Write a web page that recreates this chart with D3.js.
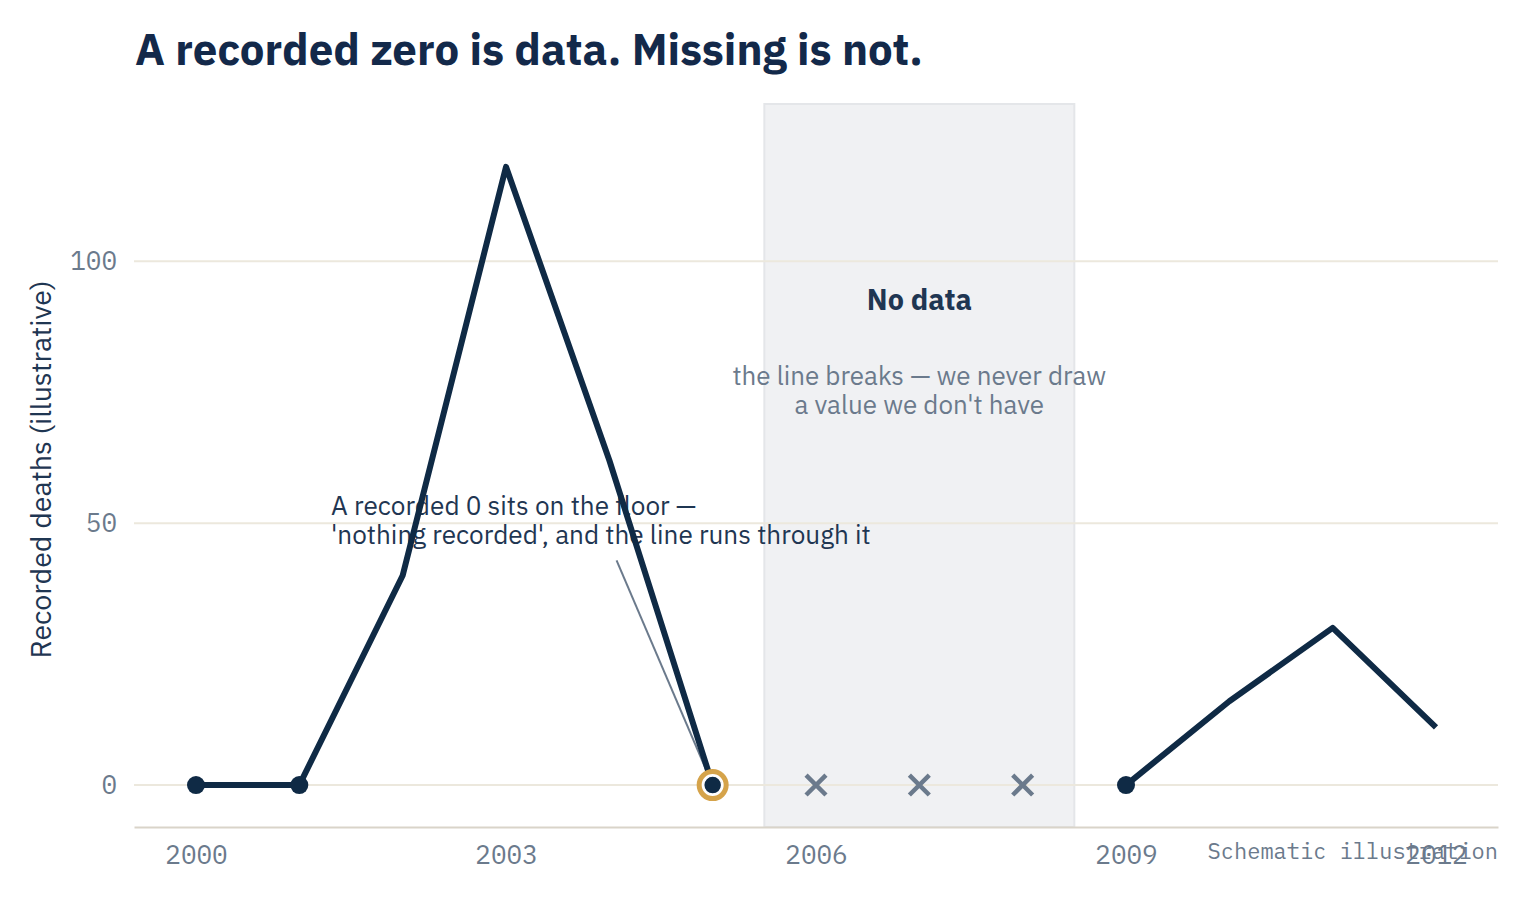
<!DOCTYPE html>
<html>
<head>
<meta charset="utf-8">
<script src="https://cdn.jsdelivr.net/npm/d3@7"></script>
<style>
  html, body { margin: 0; padding: 0; background: #ffffff; }
  svg { display: block; }
  .sans { font-family: "IBM Plex Sans", "Noto Sans", Roboto, sans-serif; }
</style>
</head>
<body>
<svg id="chart" width="1530" height="901"></svg>
<script>
// ---- data ----
const years  = [2000, 2001, 2002, 2003, 2004, 2005, 2006, 2007, 2008, 2009, 2010, 2011, 2012];
const deaths = [0, 0, 40, 118, 62, 0, null, null, null, 0, 16, 30, 11];
const missingYears = [2006, 2007, 2008];
const highlightYear = 2005;
const xTicks = [2000, 2003, 2006, 2009, 2012];
const yTicks = [0, 50, 100];
const titleText = "A recorded zero is data. Missing is not.";
const yLabel = "Recorded deaths (illustrative)";
const noDataTitle = "No data";
const noDataLines = ["the line breaks \u2014 we never draw", "a value we don't have"];
const noteLines = ["A recorded 0 sits on the floor \u2014", "'nothing recorded', and the line runs through it"];
const footnote = "Schematic illustration";

const data = years.map((y, i) => ({ year: y, value: deaths[i] }));

// ---- layout ----
const W = 1530, H = 901;
const m = { left: 134, right: 32, top: 104, bottom: 74 };
const svg = d3.select("#chart");

const x = d3.scaleLinear().domain([1999.4, 2012.6]).range([m.left, W - m.right]);
const y = d3.scaleLinear().domain([-8, 130]).range([H - m.bottom, m.top]);

const navy = "#0f2a45", textDark = "#1f3652", grey = "#6b7a8c", grid = "#ece8dd";
const monoFam = '"IBM Plex Mono", "DejaVu Sans Mono", "Liberation Mono", monospace';

// fit a text element to a target width (font fallback compensation)
function fitWidth(sel, target) {
  sel.each(function () {
    const w = this.getComputedTextLength();
    if (w > 0) {
      const fs = parseFloat(this.getAttribute("font-size"));
      this.setAttribute("font-size", (fs * target / w).toFixed(2));
    }
  });
}

// title
svg.append("text").attr("class", "sans")
  .attr("x", 135).attr("y", 65)
  .attr("font-size", 40).attr("font-weight", 700).attr("fill", "#13294a")
  .text(titleText).call(fitWidth, 788);

// no-data band
const bandX0 = x(d3.min(missingYears) - 0.5), bandX1 = x(d3.max(missingYears) + 0.5);
svg.append("rect")
  .attr("x", bandX0).attr("y", y.range()[1])
  .attr("width", bandX1 - bandX0).attr("height", y.range()[0] - y.range()[1])
  .attr("fill", "#f0f1f3").attr("stroke", "#e4e6e9").attr("stroke-width", 2);

// gridlines
svg.append("g").selectAll("line").data(yTicks).join("line")
  .attr("x1", x.range()[0]).attr("x2", x.range()[1])
  .attr("y1", d => y(d)).attr("y2", d => y(d))
  .attr("stroke", grid).attr("stroke-width", 2);

// y axis (labels only)
const yAxis = svg.append("g").attr("transform", `translate(${m.left},0)`)
  .call(d3.axisLeft(y).tickValues(yTicks).tickSize(0).tickPadding(17));
yAxis.select(".domain").remove();
yAxis.selectAll("text").attr("font-size", 26).attr("fill", grey)
  .style("font-family", monoFam);

// x axis
const xAxis = svg.append("g").attr("transform", `translate(0,${y.range()[0]})`)
  .call(d3.axisBottom(x).tickValues(xTicks).tickFormat(d3.format("d")).tickSize(0).tickPadding(19));
xAxis.select(".domain").attr("stroke", "#d9d4c9").attr("stroke-width", 2);
xAxis.selectAll("text").attr("font-size", 26).attr("fill", grey)
  .style("font-family", monoFam);

// y label
svg.append("text").attr("class", "sans")
  .attr("transform", `translate(51,${(y.range()[0] + y.range()[1]) / 2 + 4}) rotate(-90)`)
  .attr("text-anchor", "middle")
  .attr("font-size", 24).attr("fill", textDark)
  .text(yLabel).call(fitWidth, 378);

// no-data text
const bandCx = (bandX0 + bandX1) / 2;
svg.append("text").attr("class", "sans")
  .attr("x", bandCx).attr("y", 310).attr("text-anchor", "middle")
  .attr("font-size", 26).attr("font-weight", 700).attr("fill", textDark)
  .text(noDataTitle).call(fitWidth, 105);
const nd = svg.append("g").selectAll("text").data(noDataLines).join("text").attr("class", "sans")
  .attr("x", bandCx).attr("y", (d, i) => 385 + i * 29).attr("text-anchor", "middle")
  .attr("font-size", 23).attr("fill", grey)
  .text(d => d);
fitWidth(nd.filter((d, i) => i === 0), 374);
nd.filter((d, i) => i === 1).attr("font-size", nd.filter((d, i) => i === 0).attr("font-size"));

// annotation text
const nt = svg.append("g").selectAll("text").data(noteLines).join("text").attr("class", "sans")
  .attr("x", 331).attr("y", (d, i) => 515 + i * 29)
  .attr("font-size", 23).attr("fill", textDark)
  .text(d => d);
fitWidth(nt.filter((d, i) => i === 1), 540);
nt.filter((d, i) => i === 0).attr("font-size", nt.filter((d, i) => i === 1).attr("font-size"));

// leader line to highlighted zero
const hl = data.find(d => d.year === highlightYear);
const lx0 = x(2004.07), ly0 = y(42.9);
const hx = x(hl.year), hy = y(hl.value);
const dx = hx - lx0, dy = hy - ly0, len = Math.hypot(dx, dy);
svg.append("line")
  .attr("x1", lx0).attr("y1", ly0)
  .attr("x2", hx - dx / len * 13).attr("y2", hy - dy / len * 13)
  .attr("stroke", grey).attr("stroke-width", 2);

// data line (breaks where missing)
const line = d3.line().defined(d => d.value !== null)
  .x(d => x(d.year)).y(d => y(d.value));
svg.append("path").datum(data)
  .attr("d", line)
  .attr("fill", "none").attr("stroke", navy).attr("stroke-width", 6)
  .attr("stroke-linejoin", "round");

// missing markers
svg.append("g").selectAll("path").data(missingYears).join("path")
  .attr("transform", d => `translate(${x(d)},${y(0)})`)
  .attr("d", d3.symbol(d3.symbolX, 260)())
  .attr("fill", "none").attr("stroke", grey).attr("stroke-width", 4.5);

// highlight ring
svg.append("circle")
  .attr("cx", hx).attr("cy", hy).attr("r", 13.5)
  .attr("fill", "#ffffff").attr("stroke", "#d5a34a").attr("stroke-width", 5);

// recorded-zero dots
svg.append("g").selectAll("circle").data(data.filter(d => d.value === 0)).join("circle")
  .attr("cx", d => x(d.year)).attr("cy", d => y(d.value))
  .attr("r", 9).attr("fill", navy)
  .attr("stroke", d => d.year === highlightYear ? "#ffffff" : "none").attr("stroke-width", 1.5);

// footnote
svg.append("text")
  .attr("x", W - m.right).attr("y", 859).attr("text-anchor", "end")
  .attr("font-size", 22).attr("fill", grey).style("font-family", monoFam)
  .text(footnote);
</script>
</body>
</html>
